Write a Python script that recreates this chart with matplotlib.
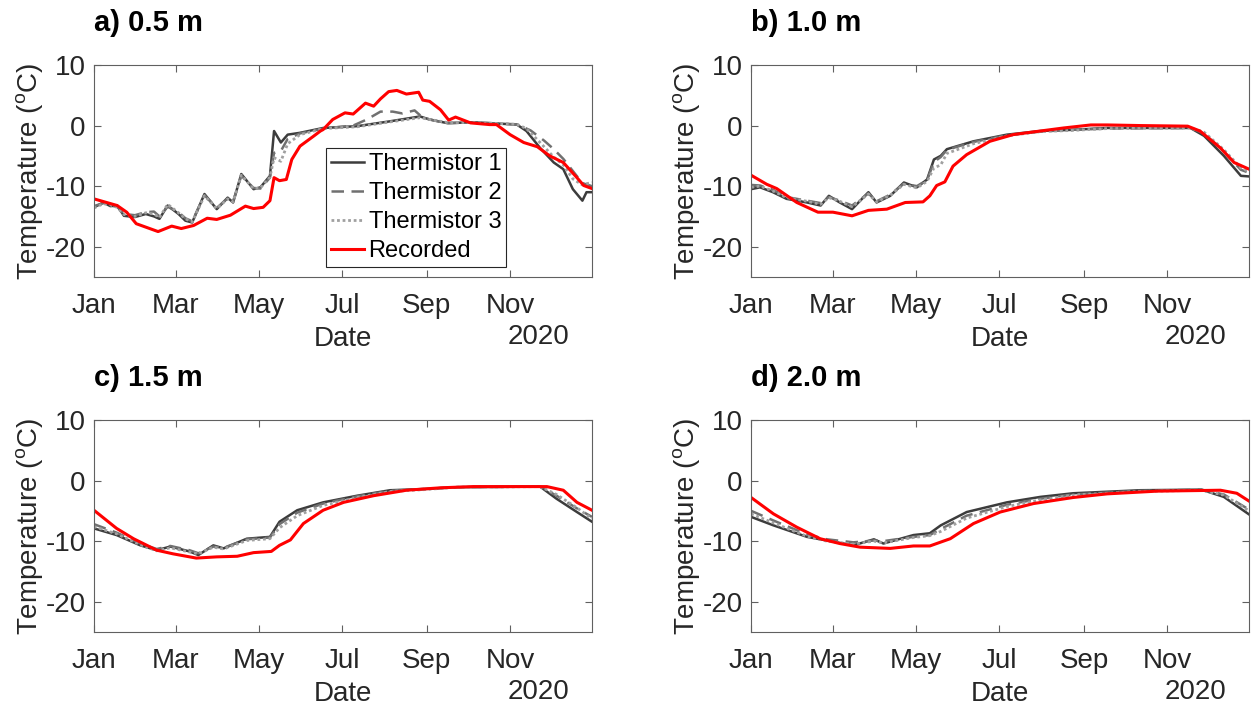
import numpy as np
import matplotlib
matplotlib.use("Agg")
import matplotlib.pyplot as plt
import matplotlib.dates as mdates

plt.rcParams['font.family'] = ['Liberation Sans', 'DejaVu Sans']
plt.rcParams['mathtext.fontset'] = 'custom'
plt.rcParams['mathtext.rm'] = 'Liberation Sans'
plt.rcParams['axes.unicode_minus'] = False

# ---- data: day of year 2020 (0 = Jan 1) and temperature in degC ----
titles = ['a) 0.5 m', 'b) 1.0 m', 'c) 1.5 m', 'd) 2.0 m']
labels = ['Thermistor 1', 'Thermistor 2', 'Thermistor 3', 'Recorded']

# a) 0.5 m
th1_days_a = [0, 7, 12, 17, 22, 30, 38, 44, 48, 54, 62, 67, 72, 81, 90, 98, 102, 108, 117, 122,
              129, 132, 137, 142, 151, 168, 193, 217, 239, 246, 259, 278, 310, 317, 327, 337, 344,
              351, 358, 361, 365]
t1_a = [-13.5, -12.7, -13.3, -13.2, -14.9, -15.1, -14.6, -15.0, -15.4, -13.2, -14.6, -15.7, -16.0,
        -11.3, -13.8, -11.9, -12.7, -8.0, -10.5, -10.2, -8.3, -0.9, -2.8, -1.5, -1.2, -0.4, -0.1,
        0.7, 1.5, 1.0, 0.4, 0.55, 0.16, -0.9, -3.7, -6.1, -7.2, -10.5, -12.4, -11.0, -11.0]
t3_a = [-13.6, -12.9, -13.1, -13.5, -14.7, -15.0, -14.4, -14.6, -15.2, -13.0, -14.4, -15.4, -15.9,
        -11.6, -13.7, -12.1, -12.6, -8.2, -10.4, -10.3, -8.5, -5.3, -5.9, -3.0, -1.5, -0.5, -0.2,
        0.6, 1.3, 1.0, 0.5, 0.5, 0.2, -0.5, -2.8, -5.2, -6.5, -8.8, -9.8, -9.6, -9.4]
th2_days_a = [0, 7, 12, 17, 22, 30, 38, 44, 48, 54, 62, 67, 72, 81, 90, 98, 102, 108, 117, 122,
              129, 132, 137, 142, 151, 168, 190, 200, 210, 219, 226, 235, 241, 250, 260, 278, 310,
              320, 330, 337, 344, 351, 358, 365]
t2_a = [-13.3, -12.8, -13.2, -13.4, -14.6, -14.8, -14.3, -14.2, -15.0, -13.4, -14.3, -15.3, -15.8,
        -11.5, -13.6, -12.0, -12.5, -8.3, -10.3, -10.4, -8.6, -4.5, -4.2, -2.2, -1.3, -0.5, 0.0,
        1.0, 2.3, 2.3, 2.0, 2.5, 1.3, 0.8, 0.4, 0.5, 0.2, -0.8, -2.5, -3.9, -5.5, -7.5, -9.5, -10.0]
rec_days_a = [0, 17, 24, 31, 47, 57, 64, 73, 83, 90, 100, 111, 117, 124, 129, 132, 136, 141, 145,
              151, 161, 166, 168, 175, 184, 190, 199, 205, 210, 216, 222, 229, 238, 241, 246, 254,
              260, 265, 276, 290, 295, 305, 315, 325, 334, 344, 354, 359, 365]
rec_a = [-12.1, -13.2, -14.3, -16.2, -17.5, -16.6, -17.0, -16.5, -15.3, -15.5, -14.8, -13.3, -13.7,
         -13.5, -12.4, -8.6, -9.1, -8.9, -5.6, -3.4, -1.75, -0.9, -0.66, 1.0, 2.1, 1.9, 3.7, 3.2,
         4.4, 5.6, 5.8, 5.2, 5.5, 4.2, 4.0, 2.6, 0.9, 1.4, 0.44, 0.16, 0.16, -1.5, -2.8, -3.5,
         -5.0, -6.1, -8.6, -9.9, -10.4]

# b) 1.0 m
th_days_b = [0, 6.6, 16, 26, 41, 51, 57, 65, 74, 86, 92, 102, 112, 121.5, 129, 134, 139, 143.5,
             163, 187.5, 212, 236, 261, 322, 332, 346.5, 359, 365]
t1_b = [-10.5, -10.2, -11.0, -12.1, -12.7, -13.2, -11.6, -12.7, -13.8, -11.0, -12.7, -11.6, -9.4,
        -10.2, -8.9, -5.6, -5.0, -3.9, -2.6, -1.5, -0.9, -0.7, -0.4, -0.4, -1.7, -5.0, -8.3, -8.4]
t2_b = [-9.8, -9.9, -10.6, -11.8, -12.4, -12.8, -11.8, -12.4, -13.2, -11.2, -12.5, -11.4, -9.6,
        -10.0, -9.0, -6.0, -5.2, -4.0, -2.7, -1.6, -1.0, -0.7, -0.5, -0.4, -1.3, -4.3, -7.3, -7.8]
t3_b = [-10.2, -10.0, -10.8, -11.9, -12.5, -13.0, -11.9, -12.5, -13.4, -11.3, -12.6, -11.5, -9.7,
        -10.3, -9.2, -7.0, -6.5, -4.6, -3.0, -1.7, -1.0, -0.8, -0.5, -0.4, -1.1, -4.0, -7.0, -7.6]
rec_days_b = [0, 11.5, 18.8, 33.5, 49, 60, 74, 86, 99.5, 113, 126, 131, 136, 142, 148, 158, 175,
              192, 212, 229, 249, 261, 285, 320, 329, 344, 354, 365]
rec_b = [-8.2, -9.7, -10.4, -12.7, -14.3, -14.3, -14.9, -14.0, -13.8, -12.7, -12.6, -11.6, -9.9,
         -9.3, -6.7, -4.8, -2.6, -1.5, -0.9, -0.4, 0.1, 0.1, 0.0, -0.1, -0.9, -3.7, -6.1, -7.2]

# c) 1.5 m
th_days_c = [0, 16.6, 34, 46, 56, 70, 76.5, 87.5, 95, 112, 129, 136, 149, 168, 193, 217, 242, 266,
             327, 339, 354, 365]
t1_c = [-7.9, -9.0, -10.7, -11.5, -10.9, -11.7, -12.3, -10.7, -11.2, -9.6, -9.3, -6.8, -4.9, -3.6,
        -2.5, -1.6, -1.4, -1.1, -1.0, -3.0, -5.2, -6.8]
t2_c = [-7.2, -8.6, -10.4, -11.3, -10.8, -11.5, -12.0, -10.9, -11.1, -9.7, -9.4, -7.2, -5.3, -3.8,
        -2.6, -1.7, -1.4, -1.1, -1.0, -2.5, -4.6, -6.0]
t3_c = [-7.6, -8.8, -10.6, -11.6, -11.1, -11.8, -12.1, -11.0, -11.3, -9.9, -9.6, -7.8, -5.8, -4.1,
        -2.8, -1.8, -1.5, -1.1, -1.0, -2.3, -4.5, -6.3]
rec_days_c = [0, 16.6, 29, 46, 58, 75, 90, 105, 117, 130, 136, 144, 153.5, 168, 183, 205, 229, 254,
              278, 332, 344, 354, 365]
rec_c = [-4.9, -7.9, -9.6, -11.5, -12.1, -12.8, -12.6, -12.5, -11.9, -11.7, -10.7, -9.8, -7.1,
         -4.9, -3.6, -2.5, -1.6, -1.2, -1.0, -1.0, -1.6, -3.6, -4.9]

# d) 2.0 m
th_days_d = [0, 16.4, 41, 55.5, 75, 90, 97, 119, 131, 139, 158, 187.5, 212, 236, 285, 330, 346.5, 365]
t1_d = [-6.0, -7.4, -9.3, -9.9, -10.7, -9.7, -10.4, -9.0, -8.7, -7.4, -5.2, -3.6, -2.7, -2.1,
        -1.6, -1.5, -2.7, -5.6]
t2_d = [-5.0, -6.6, -8.9, -9.7, -10.2, -9.9, -10.0, -9.3, -9.0, -8.0, -5.8, -4.0, -3.0, -2.3,
        -1.7, -1.5, -2.3, -4.8]
t3_d = [-5.5, -7.0, -9.2, -10.0, -10.5, -10.0, -10.3, -9.4, -9.1, -8.4, -6.2, -4.3, -3.2, -2.4,
        -1.8, -1.6, -2.4, -5.0]
rec_days_d = [0, 16.4, 33.5, 50.6, 65, 80, 102, 119, 131, 146, 163, 182.6, 207, 236, 261, 297.5,
              344, 356, 365]
rec_d = [-2.8, -5.5, -7.7, -9.6, -10.4, -11.0, -11.2, -10.8, -10.8, -9.6, -7.1, -5.2, -3.8, -2.8,
         -2.2, -1.75, -1.6, -2.1, -3.4]

panels = [
    [(th1_days_a, t1_a), (th2_days_a, t2_a), (th1_days_a, t3_a), (rec_days_a, rec_a)],
    [(th_days_b, t1_b), (th_days_b, t2_b), (th_days_b, t3_b), (rec_days_b, rec_b)],
    [(th_days_c, t1_c), (th_days_c, t2_c), (th_days_c, t3_c), (rec_days_c, rec_c)],
    [(th_days_d, t1_d), (th_days_d, t2_d), (th_days_d, t3_d), (rec_days_d, rec_d)],
]

styles = [
    dict(color='#3c3c3c', lw=1.8, ls='-'),
    dict(color='#707070', lw=1.8, ls=(0, (5, 3))),
    dict(color='#a0a0a0', lw=2.0, ls=(0, (1, 1))),
    dict(color='#ff0000', lw=2.2, ls='-'),
]

t0 = mdates.datestr2num('2020-01-01')

fig = plt.figure(figsize=(12.56, 7.07), dpi=100)
lefts = [0.0748, 0.598, 0.0748, 0.598]
bottoms = [0.6082, 0.6082, 0.1061, 0.1061]
fs = 20

for k in range(4):
    ax = fig.add_axes([lefts[k], bottoms[k], 0.3965, 0.2999])
    for (d, v), st, lab in zip(panels[k], styles, labels):
        ax.plot(t0 + np.array(d), v, label=lab, **st)
    ax.xaxis_date()
    ax.set_xlim(t0, t0 + 365)
    ax.set_ylim(-25, 10)
    ax.set_yticks([-20, -10, 0, 10])
    ax.xaxis.set_major_locator(mdates.MonthLocator(bymonth=[1, 3, 5, 7, 9, 11]))
    ax.xaxis.set_major_formatter(mdates.DateFormatter('%b'))
    ax.tick_params(direction='in', length=5, width=0.8, top=True, right=True,
                   labelsize=fs, colors='#606060', labelcolor='#262626')
    ax.tick_params(axis='x', pad=11.5)
    ax.tick_params(axis='y', pad=6)
    for sp in ax.spines.values():
        sp.set_color('#606060')
        sp.set_linewidth(0.8)
    ax.set_ylabel('Temperature ($^{\\mathrm{o}}$C)', fontsize=fs, color='#262626')
    ax.yaxis.set_label_coords(-0.097, 0.5)
    ax.text(0.5, -0.292, 'Date', transform=ax.transAxes, ha='center', va='center',
            fontsize=fs, color='#262626')
    ax.text(0.954, -0.285, '2020', transform=ax.transAxes, ha='right', va='center',
            fontsize=fs, color='#262626')
    ax.text(0.0, 1.197, titles[k], transform=ax.transAxes, ha='left', va='center',
            fontsize=21, fontweight='bold', color='black')
    if k == 0:
        leg = ax.legend(loc='lower left', bbox_to_anchor=(0.466, 0.047), fontsize=17,
                        fancybox=False, framealpha=1, edgecolor='#262626', borderpad=0.2,
                        handlelength=1.4, handletextpad=0.2, labelspacing=0.3,
                        borderaxespad=0)
        leg.get_frame().set_linewidth(0.8)

fig.savefig('out.png', dpi=100)
